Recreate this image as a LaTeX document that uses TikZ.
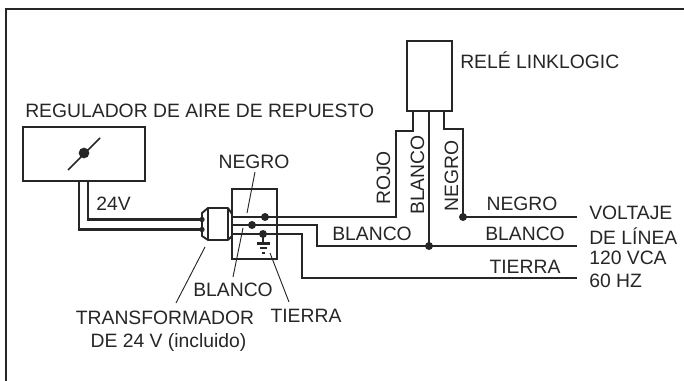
\documentclass[tikz,border=0pt]{standalone}
\usepackage{fontspec}
\setmainfont{Liberation Sans}
\begin{document}
\begin{tikzpicture}[x=0.75pt,y=-0.75pt,
 lbl/.style={inner sep=0pt,font=\fontsize{14.5}{16}\selectfont,text=black!85},
 lab/.style={lbl,anchor=west},
 wire/.style={line width=1.8pt,black!85,line join=miter},
 thin wire/.style={line width=1.4pt,black!85},
 leader/.style={line width=0.7pt,black!85},
 dotn/.style={circle,fill=black!85,inner sep=0pt,minimum size=6pt},
 boxn/.style={draw=black!85,line width=1.8pt,inner sep=0pt}]
\useasboundingbox (0,0) rectangle (684,381);
\draw[line width=1.9pt,black!85] (6,381) -- (6,9) -- (684,9);
% boxes
\node[boxn,minimum width=122*0.75pt,minimum height=54*0.75pt] (reg) at (84,154) {};
\node[boxn,minimum width=45*0.75pt,minimum height=70*0.75pt] (rel) at (429.5,76) {};
\node[boxn,minimum width=45*0.75pt,minimum height=70*0.75pt] (tr) at (254.5,224) {};
% regulator symbol
\coordinate (a1) at (68,170); \coordinate (a2) at (100,138);
\draw[line width=1.3pt,black!85] (a1) -- (a2);
\node[dotn,minimum size=8pt] (ad) at (84,153) {};
% connector
\draw[thin wire,line join=round] (208,208) -- (228,208) -- (228,240) -- (208,240) -- cycle;
\draw[thin wire,line join=round] (208,208) -- (202,213) -- (202,236) -- (208,240);
\draw[thin wire,line join=round] (228,208) -- (232,214);
\draw[thin wire,line join=round] (228,240) -- (232,236);
% wires
\coordinate (w1) at (202,219.5); \coordinate (w2) at (202,229.5);
\draw[wire] (88,181) -- (88,219.5) -- (w1);
\draw[wire] (79,181) -- (79,229.5) -- (w2);
\node[dotn,minimum size=4pt] at (w1) {};
\node[dotn,minimum size=4pt] at (w2) {};
\coordinate (e1) at (577,217); \coordinate (e2) at (577,246); \coordinate (e3) at (577,278);
\coordinate (j1) at (463,217); \coordinate (j2) at (429,246);
\draw[wire] (233,217) -- (396,217) -- (396,131) -- (413,131) -- (413,111);
\draw[wire] (233,225) -- (317,225) -- (317,246) -- (e2);
\draw[wire] (233,234) -- (302,234) -- (302,278) -- (e3);
\draw[wire] (429,111) -- (j2);
\draw[wire] (444,111) -- (444,129) -- (463,129) -- (j1);
\draw[wire] (j1) -- (e1);
\node[dotn] at (j1) {};
\node[dotn] at (j2) {};
\node[dotn] at (265,217) {};
\node[dotn] at (252,225) {};
\node[dotn] at (263,234) {};
% ground
\draw[wire] (263,234) -- (263,243);
\draw[wire] (257,243.5) -- (270,243.5);
\draw[wire] (260,248) -- (267,248);
\draw[wire] (262,253) -- (265,253);
% leaders
\node[lbl] (n1) at (254,162) {NEGRO};
\node[lbl] (n2) at (233,290) {BLANCO};
\node[lbl] (n3) at (306,316) {TIERRA};
\node[lbl] (n4) at (165,318) {TRANSFORMADOR};
\node[lbl] (n5) at (168.5,342) {DE 24 V (incluido)};
\draw[leader] (255,172) -- (247,213);
\draw[leader] (243,228) -- (233,277);
\draw[leader] (270,253) -- (289,302);
\draw[leader] (205,247) -- (176,303);
% labels
\node[lab] (t1) at (25,111) {REGULADOR DE AIRE DE REPUESTO};
\node[lab] (t2) at (460,60) {RELÉ LINKLOGIC};
\node[lab] (t3) at (96,204) {24V};
\node[lbl,rotate=90] (t4) at (383.5,178) {ROJO};
\node[lbl,rotate=90] (t5) at (417.5,175) {BLANCO};
\node[lbl,rotate=90] (t6) at (451.5,176) {NEGRO};
\node[lbl] (t7) at (372,234) {BLANCO};
\node[lbl] (t8) at (522,204) {NEGRO};
\node[lbl] (t9) at (525,234) {BLANCO};
\node[lbl] (t10) at (525,267) {TIERRA};
\node[lab] (v1) at (589,213) {VOLTAJE};
\node[lab] (v2) at (589,236) {DE LÍNEA};
\node[lab] (v3) at (589,258) {120 VCA};
\node[lab] (v4) at (589,281) {60 HZ};
\end{tikzpicture}
\end{document}
